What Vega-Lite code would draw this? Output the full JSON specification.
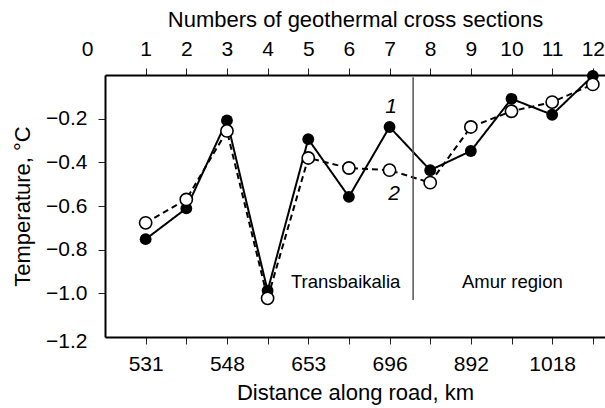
{
  "$schema": "https://vega.github.io/schema/vega-lite/v6.json",
  "width": 500,
  "height": 262,
  "autosize": "none",
  "padding": {"left": 105, "top": 75, "right": 0, "bottom": 71},
  "config": {
    "view": {"stroke": null},
    "font": "Liberation Sans",
    "axis": {
      "grid": false,
      "domainColor": "#000",
      "domainWidth": 2,
      "tickColor": "#222",
      "tickWidth": 1,
      "tickSize": 7,
      "labelColor": "#000",
      "labelFont": "Liberation Sans",
      "labelFontSize": 21,
      "titleFont": "Liberation Sans",
      "titleFontSize": 22,
      "titleFontWeight": "normal",
      "titleColor": "#000",
      "labelFlush": false,
      "labelOverlap": false,
      "labelBound": false
    }
  },
  "datasets": {
    "temps": [
      {"section": 1, "series": "1", "temp": -0.752},
      {"section": 2, "series": "1", "temp": -0.611},
      {"section": 3, "series": "1", "temp": -0.208},
      {"section": 4, "series": "1", "temp": -0.988},
      {"section": 5, "series": "1", "temp": -0.294},
      {"section": 6, "series": "1", "temp": -0.558},
      {"section": 7, "series": "1", "temp": -0.238},
      {"section": 8, "series": "1", "temp": -0.436},
      {"section": 9, "series": "1", "temp": -0.348},
      {"section": 10, "series": "1", "temp": -0.109},
      {"section": 11, "series": "1", "temp": -0.182},
      {"section": 12, "series": "1", "temp": -0.004},
      {"section": 1, "series": "2", "temp": -0.677},
      {"section": 2, "series": "2", "temp": -0.570},
      {"section": 3, "series": "2", "temp": -0.256},
      {"section": 4, "series": "2", "temp": -1.023},
      {"section": 5, "series": "2", "temp": -0.380},
      {"section": 6, "series": "2", "temp": -0.426},
      {"section": 7, "series": "2", "temp": -0.436},
      {"section": 8, "series": "2", "temp": -0.493},
      {"section": 9, "series": "2", "temp": -0.238},
      {"section": 10, "series": "2", "temp": -0.166},
      {"section": 11, "series": "2", "temp": -0.124},
      {"section": 12, "series": "2", "temp": -0.043}
    ],
    "boundary": [{"pos": 7.58, "top": -0.01, "bottom": -1.03}],
    "seriesLabels": [
      {"pos": 7.04, "temp": -0.148, "label": "1"},
      {"pos": 7.11, "temp": -0.547, "label": "2"}
    ],
    "regions": [
      {"pos": 5.92, "temp": -0.95, "label": "Transbaikalia"},
      {"pos": 10.02, "temp": -0.95, "label": "Amur region"}
    ]
  },
  "resolve": {"axis": {"x": "independent"}},
  "layer": [
    {
      "data": {"name": "temps"},
      "mark": {"type": "line", "color": "#000", "strokeWidth": 2},
      "encoding": {
        "x": {
          "field": "section", "type": "quantitative",
          "scale": {"domain": [0, 12.3], "nice": false, "zero": false},
          "axis": {
            "orient": "bottom",
            "values": [1, 2, 3, 4, 5, 6, 7, 8, 9, 10, 11, 12],
            "labelExpr": "datum.value == 1 ? '531' : datum.value == 3 ? '548' : datum.value == 5 ? '653' : datum.value == 7 ? '696' : datum.value == 9 ? '892' : datum.value == 11 ? '1018' : ''",
            "labelPadding": 9,
            "title": "Distance along road, km",
            "titlePadding": 8
          }
        },
        "y": {
          "field": "temp", "type": "quantitative",
          "scale": {"domain": [-1.2, 0], "nice": false, "zero": false},
          "axis": {
            "values": [-1.2, -1.0, -0.8, -0.6, -0.4, -0.2],
            "format": ".1f",
            "labelPadding": 11,
            "labelOffset": {"condition": {"test": "datum.value < -1.1", "value": 4}, "value": 0},
            "tickOpacity": {"condition": {"test": "datum.value < -1.1", "value": 0}, "value": 1},
            "title": "Temperature, °C",
            "titlePadding": 11
          }
        },
        "strokeDash": {
          "field": "series", "type": "nominal",
          "scale": {"domain": ["1", "2"], "range": [[1, 0], [6, 4]]},
          "legend": null
        }
      }
    },
    {
      "data": {"name": "boundary"},
      "mark": {"type": "rule", "color": "#555", "strokeWidth": 1.5},
      "encoding": {
        "x": {
          "field": "pos", "type": "quantitative",
          "scale": {"domain": [0, 12.3], "nice": false, "zero": false},
          "axis": {
            "orient": "top",
            "values": [0, 1, 2, 3, 4, 5, 6, 7, 8, 9, 10, 11, 12],
            "format": "d",
            "labelPadding": 9,
            "labelOffset": {"condition": {"test": "datum.value == 0", "value": -18}, "value": 0},
            "tickOpacity": {"condition": {"test": "datum.value == 0", "value": 0}, "value": 1},
            "title": "Numbers of geothermal cross sections",
            "titlePadding": 7
          }
        },
        "y": {"field": "top", "type": "quantitative", "scale": {"domain": [-1.2, 0], "nice": false, "zero": false}},
        "y2": {"field": "bottom"}
      }
    },
    {
      "data": {"name": "temps"},
      "transform": [{"filter": "datum.series == '1'"}],
      "mark": {"type": "point", "shape": "circle", "filled": true, "color": "#000", "size": 140, "opacity": 1},
      "encoding": {
        "x": {"field": "section", "type": "quantitative", "scale": {"domain": [0, 12.3], "nice": false, "zero": false}, "axis": null},
        "y": {"field": "temp", "type": "quantitative", "scale": {"domain": [-1.2, 0], "nice": false, "zero": false}}
      }
    },
    {
      "data": {"name": "temps"},
      "transform": [{"filter": "datum.series == '2'"}],
      "mark": {"type": "point", "shape": "circle", "filled": true, "fill": "#fff", "stroke": "#000", "strokeWidth": 1.6, "size": 150, "opacity": 1},
      "encoding": {
        "x": {"field": "section", "type": "quantitative", "scale": {"domain": [0, 12.3], "nice": false, "zero": false}, "axis": null},
        "y": {"field": "temp", "type": "quantitative", "scale": {"domain": [-1.2, 0], "nice": false, "zero": false}}
      }
    },
    {
      "data": {"name": "seriesLabels"},
      "mark": {"type": "text", "font": "Liberation Sans", "fontSize": 21, "fontStyle": "italic", "color": "#000"},
      "encoding": {
        "x": {"field": "pos", "type": "quantitative", "scale": {"domain": [0, 12.3], "nice": false, "zero": false}, "axis": null},
        "y": {"field": "temp", "type": "quantitative", "scale": {"domain": [-1.2, 0], "nice": false, "zero": false}},
        "text": {"field": "label"}
      }
    },
    {
      "data": {"name": "regions"},
      "mark": {"type": "text", "font": "Liberation Sans", "fontSize": 18.5, "color": "#000"},
      "encoding": {
        "x": {"field": "pos", "type": "quantitative", "scale": {"domain": [0, 12.3], "nice": false, "zero": false}, "axis": null},
        "y": {"field": "temp", "type": "quantitative", "scale": {"domain": [-1.2, 0], "nice": false, "zero": false}},
        "text": {"field": "label"}
      }
    }
  ]
}
